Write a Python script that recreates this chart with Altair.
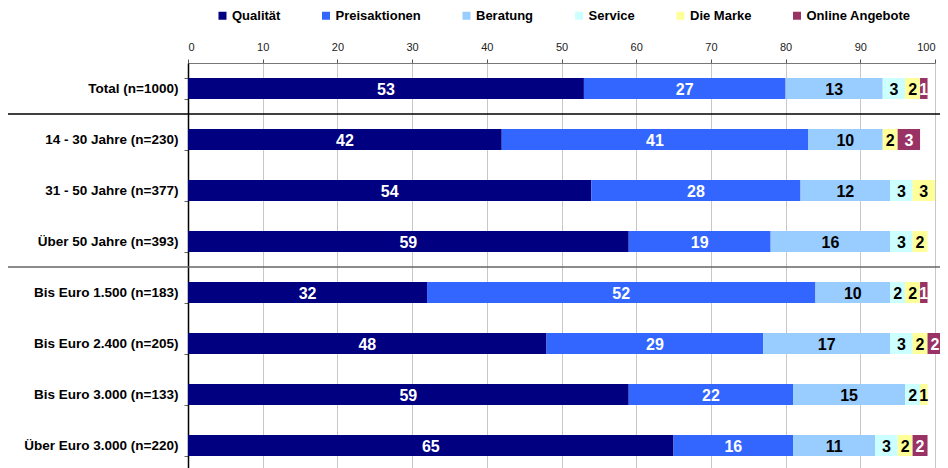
import altair as alt
import pandas as pd

categories = [
    "Total (n=1000)",
    "14 - 30 Jahre (n=230)",
    "31 - 50 Jahre (n=377)",
    "Über 50 Jahre (n=393)",
    "Bis Euro 1.500 (n=183)",
    "Bis Euro 2.400 (n=205)",
    "Bis Euro 3.000 (n=133)",
    "Über Euro 3.000 (n=220)",
]
series_names = ["Qualität", "Preisaktionen", "Beratung", "Service", "Die Marke", "Online Angebote"]
qualitaet = [53, 42, 54, 59, 32, 48, 59, 65]
preisaktionen = [27, 41, 28, 19, 52, 29, 22, 16]
beratung = [13, 10, 12, 16, 10, 17, 15, 11]
service = [3, 0, 3, 3, 2, 3, 2, 3]
die_marke = [2, 2, 3, 2, 2, 2, 1, 2]
online = [1, 3, 0, 0, 1, 2, 0, 2]
colors = ["#000080", "#3366FF", "#99CCFF", "#CCFFFF", "#FFFF99", "#993366"]
x_ticks = [0, 10, 20, 30, 40, 50, 60, 70, 80, 90, 100]

series_values = [qualitaet, preisaktionen, beratung, service, die_marke, online]
rows = []
for si, (name, vals) in enumerate(zip(series_names, series_values)):
    for ci, cat in enumerate(categories):
        rows.append({"cat": cat, "series": name, "order": si, "value": vals[ci]})
df = pd.DataFrame(rows)

FONT = "Liberation Sans"
W = 747
STEP = 51
H = STEP * len(categories)
PAD = 30 / 51

base = alt.Chart(df).transform_stack(
    stack="value", groupby=["cat"], as_=["x0", "x1"], sort=[alt.SortField("order", order="ascending")]
)

yenc = alt.Y(
    "cat:N",
    sort=categories,
    title=None,
    scale=alt.Scale(paddingInner=PAD, paddingOuter=PAD / 2),
    axis=alt.Axis(
        labelFont=FONT, labelFontSize=13.5, labelFontWeight="bold", labelColor="#000",
        domainColor="#000", domainWidth=1.5, tickColor="#666", tickSize=4, tickBand="extent",
        labelPadding=6, labelLimit=400,
    ),
)

bars = base.mark_bar(strokeWidth=0).encode(
    y=yenc,
    x=alt.X(
        "x0:Q",
        scale=alt.Scale(domain=[0, 100], nice=False),
        title=None,
        axis=alt.Axis(
            orient="top", values=x_ticks, labelFont=FONT, labelFontSize=11, labelColor="#222",
            domainColor="#777", domainWidth=1.2, tickColor="#555", tickSize=4, labelPadding=7,
            grid=True, gridColor="#c8c8c8", gridWidth=1,
        ),
    ),
    x2="x1:Q",
    color=alt.Color(
        "series:N",
        sort=series_names,
        scale=alt.Scale(domain=series_names, range=colors),
        legend=alt.Legend(
            title=None, orient="none", direction="horizontal", legendX=28, legendY=-54,
            symbolType="square", symbolSize=64, symbolStrokeWidth=0, labelFont=FONT,
            labelFontSize=13, labelFontWeight="bold", labelColor="#000", labelOffset=3,
            columnPadding=38.5, padding=0, labelLimit=300,
        ),
    ),
)

labels = base.transform_filter(alt.datum.value > 0).transform_calculate(
    mid="(datum.x0 + datum.x1) / 2"
).mark_text(font=FONT, fontSize=16, fontWeight="bold", align="center", baseline="middle", dy=1).encode(
    y=alt.Y("cat:N", sort=categories),
    x=alt.X("mid:Q"),
    text=alt.Text("value:Q"),
    color=alt.condition(
        alt.FieldOneOfPredicate(field="series", oneOf=["Qualität", "Preisaktionen", "Online Angebote"]),
        alt.value("white"),
        alt.value("black"),
    ),
)

sep_df = pd.DataFrame({"k": ["a", "b"], "after": [1, 4]})
sep1 = alt.Chart(sep_df).transform_filter(alt.datum.k == "a").mark_rule(color="#000", strokeWidth=1.5).encode(
    x=alt.value(-181), x2=alt.value(W + 20), y=alt.value(STEP * 1)
)
sep2 = alt.Chart(sep_df).transform_filter(alt.datum.k == "b").mark_rule(color="#666", strokeWidth=1.5).encode(
    x=alt.value(-181), x2=alt.value(W + 20), y=alt.value(STEP * 4)
)

chart = alt.layer(bars, labels, sep1, sep2).properties(
    width=W, height=H,
    autosize=alt.AutoSizeParams(type="none"),
    padding={"left": 180, "top": 55, "right": 5, "bottom": 0},
).configure_view(stroke=None)

chart.save("out.html", embed_options={"renderer": "svg", "actions": False})
